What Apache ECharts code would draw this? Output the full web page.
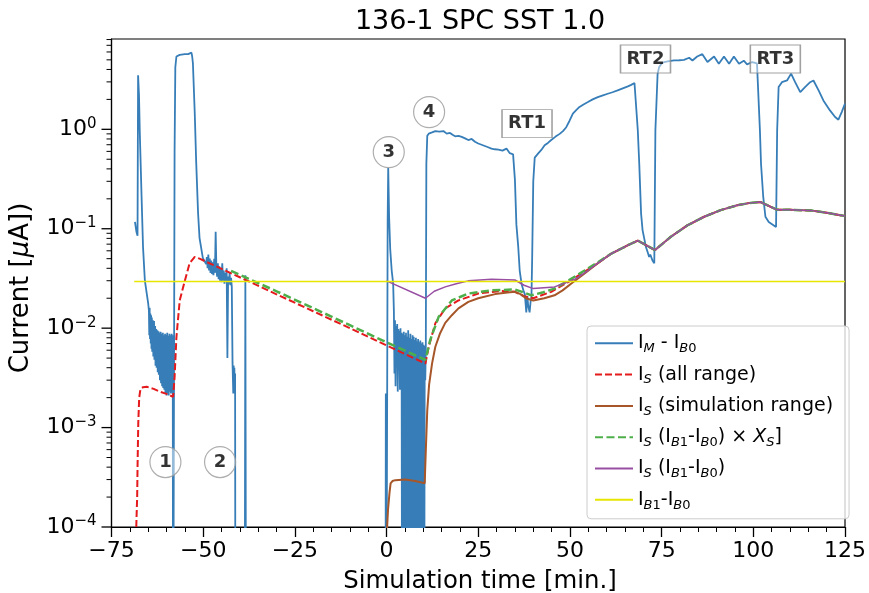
<!DOCTYPE html>
<html>
<head>
<meta charset="utf-8">
<script src="https://cdn.jsdelivr.net/npm/echarts@6/dist/echarts.min.js"></script>
<style>
  html, body { margin: 0; padding: 0; background: #fff; }
  #chart { width: 869px; height: 593px; }
</style>
</head>
<body>
<div id="chart"></div>
<script>
// ---- data: [time (min), current (µA)] ----
// values far below the axis floor mark negative readings clipped to the bottom
const FLOOR = 1e-6;

const measuredCurrent = [
  [-68.6, 0.117], [-68.2, 0.093], [-67.9, 0.085], [-67.75, 3.5], [-67.5, 2.2], [-67.3, 0.98],
  [-66.8, 0.21], [-66.4, 0.065], [-65.9, 0.030], [-65.0, 0.0178],
  [-64.8, 0.0150], [-64.7, 0.0085], [-64.6, 0.0160], [-64.5, 0.0078], [-64.4, 0.0140], [-64.3, 0.0070],
  [-64.2, 0.0135], [-64.1, 0.0062], [-64.0, 0.0128], [-63.9, 0.0058], [-63.7, 0.0120], [-63.6, 0.0052],
  [-63.4, 0.0118], [-63.3, 0.0048], [-63.1, 0.0105], [-63.0, 0.0042], [-62.8, 0.0098], [-62.7, 0.0040],
  [-62.5, 0.0095], [-62.4, 0.0036], [-62.2, 0.0093], [-62.1, 0.0034], [-61.9, 0.0090], [-61.8, 0.0030],
  [-61.6, 0.0092], [-61.5, 0.0028], [-61.3, 0.0088], [-61.2, 0.0026], [-61.0, 0.0090], [-60.9, 0.0025],
  [-60.7, 0.0085], [-60.6, 0.0024], [-60.4, 0.0088], [-60.3, 0.0022], [-60.1, 0.0086], [-60.0, 0.0021],
  [-59.8, 0.0090], [-59.7, 0.0022], [-59.5, 0.0084], [-59.4, 0.0021], [-59.2, 0.0088], [-59.1, 0.0023],
  [-58.9, 0.0085], [-58.8, 0.0022], [-58.6, 0.0088], [-58.5, 0.0023],
  [-58.3, 0.0085], [-58.2, FLOOR], [-58.0, FLOOR],
  [-57.8, 0.6], [-57.6, 4.2], [-57.3, 5.4], [-56.4, 5.6], [-55.0, 5.7], [-54.1, 5.7], [-53.6, 5.5],
  [-53.2, 5.9], [-53.0, 5.4], [-52.8, 4.6], [-52.3, 1.45], [-51.9, 0.46], [-51.4, 0.145], [-51.0, 0.081],
  [-50.1, 0.051], [-49.6, 0.047], [-49.2, 0.044],
  [-49.0, 0.052], [-48.8, 0.040], [-48.6, 0.055], [-48.4, 0.038], [-48.2, 0.050], [-48.0, 0.036],
  [-47.8, 0.048], [-47.6, 0.035], [-47.4, 0.046], [-47.2, 0.034], [-47.0, 0.050], [-46.8, 0.036],
  [-46.6, 0.093], [-46.4, 0.040], [-46.2, 0.033], [-46.0, 0.045], [-45.8, 0.031], [-45.6, 0.042],
  [-45.4, 0.030], [-45.2, 0.040], [-45.0, 0.029], [-44.8, 0.045], [-44.6, 0.030], [-44.4, 0.038],
  [-44.2, 0.028], [-44.0, 0.036], [-43.8, 0.030], [-43.6, 0.040], [-43.4, 0.0050], [-43.2, 0.033],
  [-43.0, 0.028], [-42.8, 0.036], [-42.6, 0.027], [-42.4, 0.032], [-42.2, 0.026], [-42.0, 0.0045],
  [-41.8, 0.0022], [-41.7, 0.0042], [-41.6, 0.0023], [-41.5, 0.0040], [-41.4, 0.0022], [-41.3, 0.0035],
  [-41.2, FLOOR], [-38.7, FLOOR], [-38.5, 0.034], [-38.3, FLOOR],
  [-0.3, FLOOR], [-0.2, 0.0022], [-0.1, FLOOR], [0.1, FLOOR], [0.3, 0.12], [0.45, 0.41], [0.7, 0.13],
  [1.0, 0.062], [1.4, 0.038], [1.8, 0.028],
  [2.0, 0.0146], [2.15, 0.0035], [2.3, 0.0120], [2.45, 0.0026], [2.6, 0.0105], [2.75, 0.0050],
  [2.9, 0.0110], [3.05, 0.0023], [3.2, 0.0098], [3.35, 0.0042], [3.5, 0.0094], [3.65, 0.0024],
  [3.8, 0.0100], [3.95, 0.0030], [4.1, 0.0090],
  [4.25, FLOOR], [4.4, 0.0088], [4.55, 0.0030], [4.7, 0.0092], [4.85, FLOOR], [5.0, 0.0085],
  [5.15, 0.0025], [5.3, 0.0090], [5.45, FLOOR], [5.6, 0.0082], [5.75, 0.0028], [5.9, 0.0095],
  [6.05, FLOOR], [6.2, 0.0080], [6.35, 0.0024], [6.5, 0.0088], [6.65, FLOOR], [6.8, 0.0078],
  [6.95, 0.0030], [7.1, 0.0085], [7.25, FLOOR], [7.4, 0.0082], [7.55, 0.0026], [7.7, 0.0076],
  [7.85, FLOOR], [8.0, 0.0080], [8.15, 0.0022], [8.3, 0.0074], [8.45, FLOOR], [8.6, 0.0078],
  [8.75, 0.0028], [8.9, 0.0072], [9.05, FLOOR], [9.2, 0.0075], [9.35, 0.0024], [9.5, 0.0070],
  [9.65, FLOOR], [9.8, 0.0072], [9.95, 0.0022], [10.1, 0.0068], [10.25, FLOOR], [10.4, 0.0066],
  [10.55, 0.0030], [10.7, 0.0060], [10.85, 0.45], [11.1, 0.86], [11.5, 0.905],
  [12.4, 0.93], [13.3, 0.96], [14.4, 0.95], [15.5, 0.96], [16.4, 0.905], [17.3, 0.92], [18.0, 0.88],
  [18.7, 0.85], [19.6, 0.86], [20.5, 0.84], [21.4, 0.81], [22.3, 0.78], [23.2, 0.80], [24.1, 0.75],
  [25.0, 0.72], [25.9, 0.70], [26.8, 0.68], [27.7, 0.66], [28.6, 0.64], [29.5, 0.63], [30.5, 0.625],
  [31.6, 0.61], [32.7, 0.64], [33.6, 0.575], [34.5, 0.56], [35.0, 0.31], [35.4, 0.11], [35.9, 0.066],
  [36.3, 0.038], [36.8, 0.028], [37.3, 0.024], [37.7, 0.022], [38.1, 0.0144], [38.4, 0.021],
  [38.6, 0.017], [39.0, 0.0144], [39.3, 0.019], [39.5, 0.020], [39.7, 0.05], [40.0, 0.3],
  [40.4, 0.52], [41.3, 0.57], [42.2, 0.62], [43.1, 0.69], [44.0, 0.73], [44.9, 0.78], [46.0, 0.84],
  [47.2, 0.90], [48.1, 0.96], [49.0, 1.05], [49.9, 1.22], [50.8, 1.44], [51.7, 1.56], [52.6, 1.68],
  [53.7, 1.78], [54.9, 1.88], [56.2, 2.0], [57.6, 2.11], [59.0, 2.2], [60.3, 2.28], [61.6, 2.36],
  [63.0, 2.46], [64.4, 2.58], [65.8, 2.70], [66.7, 2.80], [67.6, 2.92], [68.0, 2.9], [68.5, 0.98],
  [68.9, 0.45], [69.4, 0.142], [69.8, 0.097], [70.7, 0.066], [71.2, 0.058], [71.6, 0.052],
  [71.9, 0.055], [72.5, 0.048], [73.0, 0.045], [73.3, 0.98], [73.9, 3.6], [74.3, 4.2], [75.0, 4.6],
  [75.7, 4.75], [77.0, 4.85], [78.4, 4.93], [79.8, 4.95], [81.1, 5.0], [82.5, 5.25], [83.4, 4.93],
  [84.7, 5.4], [86.1, 5.7], [87.5, 4.75], [89.3, 5.4], [90.6, 4.57], [92.0, 5.4], [93.4, 4.57],
  [94.7, 5.4], [96.1, 4.57], [97.4, 4.9], [98.3, 4.5], [99.7, 4.75], [101.0, 4.6], [101.8, 0.98],
  [102.1, 0.45], [102.7, 0.21], [103.3, 0.132], [104.2, 0.117], [105.6, 0.108], [106.2, 0.104],
  [106.5, 0.98], [106.9, 2.66], [107.8, 2.98], [109.2, 3.1], [110.3, 3.63], [111.4, 2.98],
  [112.8, 2.37], [114.1, 2.66], [115.5, 2.98], [116.4, 3.1], [117.8, 2.46], [119.1, 1.95],
  [120.9, 1.55], [122.3, 1.33], [123.2, 1.25], [124.1, 1.49], [125.0, 1.81]
];

// the simulated curves share this stretch once the runs line up
const simulatedTail = [
  [61.2, 0.056], [65.7, 0.068], [68.5, 0.076], [73.2, 0.061], [77.5, 0.083], [82.0, 0.108],
  [86.6, 0.132], [91.1, 0.154], [95.6, 0.172], [98.8, 0.181], [101.9, 0.186], [106.5, 0.155],
  [110.0, 0.155], [115.5, 0.153], [120.0, 0.145], [125.0, 0.134]
];

const simAllRange = [
  [-68.45, 5e-5], [-68.17, 1.27e-4], [-68.0, 2.0e-4], [-67.9, 4.0e-4], [-67.7, 1.11e-3],
  [-67.45, 2.0e-3], [-67.1, 2.45e-3], [-66.4, 2.55e-3], [-65.4, 2.57e-3], [-63.5, 2.45e-3],
  [-61.8, 2.3e-3], [-60.0, 2.18e-3], [-58.2, 2.04e-3], [-57.8, 3.2e-3], [-57.3, 8.1e-3],
  [-56.4, 0.019], [-55.0, 0.030], [-53.7, 0.045], [-52.3, 0.052], [-51.0, 0.050], [-40.0, 0.0325],
  [-30.0, 0.0219], [-20.0, 0.0148], [-10.0, 0.0100], [0.0, 0.0067], [10.6, 0.00441],
  [11.5, 0.0065], [13.3, 0.0112], [16.0, 0.0158], [19.6, 0.019], [25.0, 0.0223], [31.4, 0.0237],
  [35.0, 0.0232], [37.5, 0.021], [40.0, 0.020], [44.9, 0.0232], [49.5, 0.029], [54.0, 0.037],
  [57.6, 0.045]
];

const simRange = [
  [0.05, 5e-5], [0.15, 1.0e-4], [0.4, 1.5e-4], [0.8, 2.2e-4], [1.1, 2.75e-4], [1.6, 2.9e-4],
  [2.4, 2.96e-4], [5.1, 3.0e-4], [7.8, 2.9e-4], [10.4, 2.75e-4], [10.7, 5.9e-4], [11.1, 1.5e-3],
  [11.6, 2.7e-3], [12.4, 4.4e-3], [13.3, 6.5e-3], [14.6, 8.9e-3], [16.0, 0.0113], [17.8, 0.0135],
  [19.6, 0.0158], [22.3, 0.0184], [25.0, 0.020], [29.6, 0.022], [33.0, 0.0228], [35.0, 0.0232],
  [36.5, 0.022], [38.0, 0.020], [40.0, 0.019], [43.0, 0.020], [45.8, 0.0214], [48.0, 0.024],
  [50.3, 0.028], [54.0, 0.0355], [57.6, 0.045]
];

const simScaledBaseline = [
  [-42.4, 0.0377], [-30.0, 0.0235], [-20.0, 0.0159], [-10.0, 0.0107], [0.0, 0.0072], [10.6, 0.0048],
  [11.9, 0.0076], [14.2, 0.013], [17.8, 0.019], [22.3, 0.0223], [28.6, 0.024], [35.0, 0.0245],
  [37.5, 0.0228], [39.5, 0.0214], [42.5, 0.0228], [45.8, 0.025], [49.5, 0.030], [54.0, 0.038],
  [57.6, 0.046]
];

const simBaseline = [
  [0.0, 0.0299], [10.6, 0.0200], [13.0, 0.0235], [16.0, 0.026], [19.0, 0.028], [22.3, 0.0299],
  [28.6, 0.031], [35.0, 0.0305], [37.5, 0.027], [40.0, 0.025], [45.8, 0.026], [51.3, 0.031],
  [54.9, 0.038], [57.6, 0.045]
];

const baselineDiff = [[-68.8, 0.0295], [125.0, 0.0295]];

// step markers
const stepLabels = ['1', '2', '3', '4'];
const stepTimes = [-60.3, -45.4, 0.6, 11.6];
const stepCurrents = [4.5e-4, 4.5e-4, 0.59, 1.49];

const runLabels = ['RT1', 'RT2', 'RT3'];
const runTimes = [38.3, 70.6, 106.0];
const runCurrents = [1.14, 5.09, 5.09];

// axes
const xTickValues = [-75, -50, -25, 0, 25, 50, 75, 100, 125];
const yMajorTicks = [1e-4, 1e-3, 1e-2, 1e-1, 1];
const yMax = 8.1;

// ---- drawing ----
const FONT = 'DejaVu Sans';
const yMinorTicks = [];
yMajorTicks.forEach(p => {
  for (let k = 2; k <= 9; k++) if (k * p <= yMax) yMinorTicks.push(k * p);
});
const tickData = yMajorTicks.map(v => [-75, v, 1]).concat(yMinorTicks.map(v => [-75, v, 0]));

const names = ['meas', 'allRange', 'simRange', 'scaled', 'base', 'diff'];
const legendText = {
  meas: '{n|I}{si|M}{n| - I}{si|B}{s|0}',
  allRange: '{n|I}{si|S}{n| (all range)}',
  simRange: '{n|I}{si|S}{n| (simulation range)}',
  scaled: '{n|I}{si|S}{n| (I}{si|B}{s|1}{n|-I}{si|B}{s|0}{n|) × }{ni|X}{si|S}{n|]}',
  base: '{n|I}{si|S}{n| (I}{si|B}{s|1}{n|-I}{si|B}{s|0}{n|)}',
  diff: '{n|I}{si|B}{s|1}{n|-I}{si|B}{s|0}'
};

function lineSeries(name, data, color, width, type, z) {
  return {
    name, type: 'line', data, symbol: 'none', showSymbol: false, z,
    lineStyle: { color, width, type }, itemStyle: { color },
    emphasis: { disabled: true }, animation: false, silent: true
  };
}

const minus = n => (n < 0 ? '\u2212' + (-n) : String(n));

const chart = echarts.init(document.getElementById('chart'), null, { renderer: 'canvas' });
chart.setOption({
  animation: false,
  backgroundColor: '#fff',
  grid: { left: 111.5, right: 20.7, top: 39, bottom: 66, show: true, borderColor: '#000', borderWidth: 1.2, containLabel: false },
  xAxis: {
    type: 'value', min: -75, max: 125, interval: 25,
    axisLine: { show: true, onZero: false, lineStyle: { color: '#000', width: 1.2 } },
    axisTick: { show: true, length: 10, lineStyle: { color: '#000', width: 1.3 } },
    minorTick: { show: true, splitNumber: 5, length: 5, lineStyle: { color: '#000', width: 1 } },
    splitLine: { show: false },
    axisLabel: { fontSize: 22, fontFamily: FONT, color: '#000', margin: 13, formatter: v => minus(v), showMinLabel: true, showMaxLabel: true }
  },
  yAxis: {
    type: 'log', logBase: 10, min: 1e-4, max: yMax,
    axisLine: { show: true, onZero: false, lineStyle: { color: '#000', width: 1.2 } },
    axisTick: { show: false },
    minorTick: { show: false },
    splitLine: { show: false },
    axisLabel: {
      margin: 15, color: '#000',
      formatter: v => {
        const e = Math.log10(v), r = Math.round(e);
        if (Math.abs(e - r) > 1e-6) return '';
        return '{b|10}{p|' + minus(r) + '}';
      },
      rich: {
        b: { fontSize: 22, lineHeight: 26, fontFamily: FONT, color: '#000' },
        p: { fontSize: 15, lineHeight: 15, verticalAlign: 'top', fontFamily: FONT, color: '#000' }
      }
    }
  },
  legend: {
    orient: 'vertical', left: 587, top: 326,
    data: names, selectedMode: false,
    itemWidth: 38, itemHeight: 24, itemGap: 7.3,
    padding: [5.3, 16, 7, 7],
    itemStyle: { opacity: 0 },
    backgroundColor: 'rgba(255,255,255,0.8)', borderColor: '#cccccc', borderWidth: 1, borderRadius: 4,
    formatter: n => legendText[n],
    textStyle: {
      fontFamily: FONT, fontSize: 19, color: '#000', height: 24, lineHeight: 24,
      rich: {
        n: { fontFamily: FONT, fontSize: 19, lineHeight: 24, color: '#000' },
        ni: { fontFamily: FONT, fontSize: 19, lineHeight: 24, fontStyle: 'italic', color: '#000' },
        s: { fontFamily: FONT, fontSize: 13, lineHeight: 14, verticalAlign: 'bottom', color: '#000' },
        si: { fontFamily: FONT, fontSize: 13, lineHeight: 14, verticalAlign: 'bottom', fontStyle: 'italic', color: '#000' }
      }
    }
  },
  graphic: [
    { type: 'text', x: 480, y: 22, silent: true,
      style: { text: '136-1 SPC SST 1.0', font: '27px "DejaVu Sans"', fill: '#000', align: 'center', verticalAlign: 'middle' } },
    { type: 'text', x: 480, y: 582, silent: true,
      style: { text: 'Simulation time [min.]', font: '24.4px "DejaVu Sans"', fill: '#000', align: 'center', verticalAlign: 'middle' } },
    { type: 'text', x: 21, y: 288, rotation: Math.PI / 2, silent: true,
      style: {
        text: '{a|Current [}{m|μ}{a|A])}', align: 'center', verticalAlign: 'middle',
        rich: {
          a: { fontFamily: FONT, fontSize: 26, fill: '#000', color: '#000' },
          m: { fontFamily: FONT, fontSize: 26, fontStyle: 'italic', fill: '#000', color: '#000' }
        }
      } }
  ],
  series: [
    lineSeries('meas', measuredCurrent, '#377eb8', 1.8, 'solid', 2),
    lineSeries('allRange', simAllRange, '#e41a1c', 2, [7, 3], 3),
    lineSeries('simRange', simRange, '#a65628', 2, 'solid', 4),
    lineSeries('scaled', simScaledBaseline.concat(simulatedTail), '#4daf4a', 2.5, [8, 3.5], 5),
    lineSeries('base', simBaseline.concat(simulatedTail), '#984ea3', 1.5, 'solid', 6),
    lineSeries('diff', baselineDiff, '#e6e600', 1.5, 'solid', 7),
    // allRange/simRange continue along the shared tail under the other curves
    lineSeries('allRangeTail', [[57.6, 0.045]].concat(simulatedTail), '#e41a1c', 2, [7, 3], 3),
    lineSeries('simRangeTail', [[57.6, 0.045]].concat(simulatedTail), '#a65628', 2, 'solid', 4),
    {
      type: 'custom', name: 'yTicks', data: tickData, encode: { x: 0, y: 1 }, silent: true, z: 20,
      renderItem: (params, api) => {
        const p = api.coord([api.value(0), api.value(1)]);
        const major = api.value(2) === 1;
        const len = major ? 10 : 5;
        return { type: 'line', shape: { x1: p[0], y1: p[1], x2: p[0] - len, y2: p[1] },
                 style: { stroke: '#000', lineWidth: major ? 1.3 : 1 } };
      }
    },
    {
      type: 'scatter', name: 'steps', z: 30, silent: true,
      data: stepTimes.map((t, i) => ({ value: [t, stepCurrents[i]], name: stepLabels[i] })),
      symbol: 'circle', symbolSize: 31,
      itemStyle: { color: 'rgba(255,255,255,0.6)', borderColor: '#9a9a9a', borderWidth: 1.2 },
      label: { show: true, position: 'inside', formatter: '{b}', fontFamily: FONT, fontSize: 18, fontWeight: 'bold', color: '#000' },
      emphasis: { disabled: true }
    },
    {
      type: 'scatter', name: 'runs', z: 30, silent: true,
      data: runTimes.map((t, i) => ({ value: [t, runCurrents[i]], name: runLabels[i] })),
      symbol: 'rect', symbolSize: [50, 28],
      itemStyle: { color: 'rgba(255,255,255,0.6)', borderColor: '#8a8a8a', borderWidth: 1.2 },
      label: { show: true, position: 'inside', formatter: '{b}', fontFamily: FONT, fontSize: 18, fontWeight: 'bold', color: '#000' },
      emphasis: { disabled: true }
    }
  ]
});
</script>
</body>
</html>
